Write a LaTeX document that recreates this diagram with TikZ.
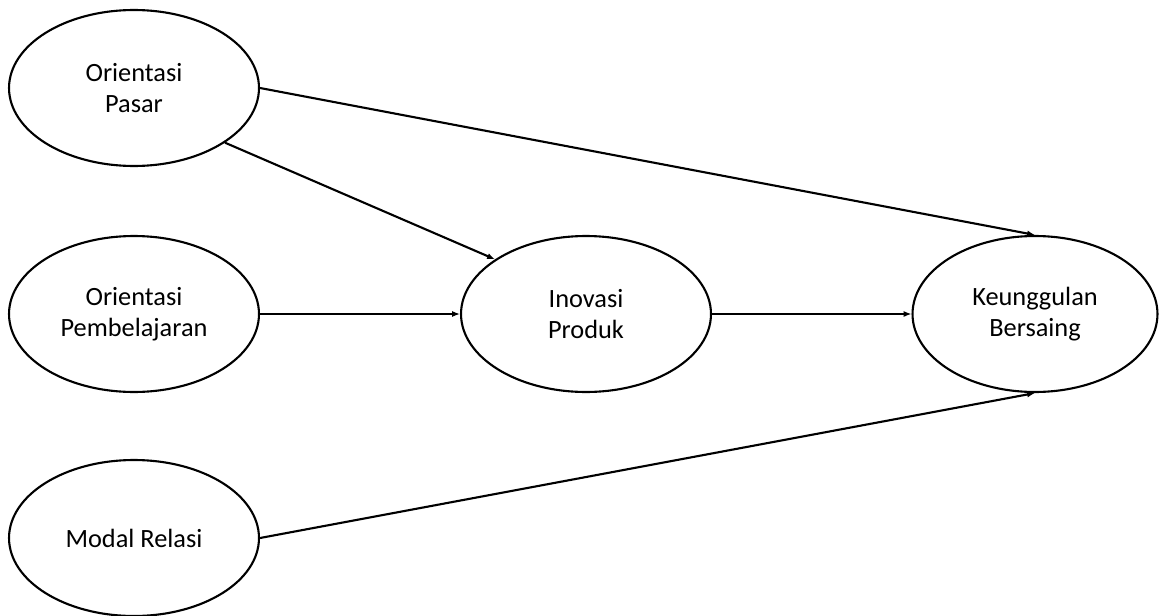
\documentclass[tikz,border=0pt]{standalone}
\usepackage{fontspec}
\setmainfont{Carlito}
\usetikzlibrary{arrows.meta,shapes.geometric}
\begin{document}
\begin{tikzpicture}[x=0.02cm,y=-0.02cm,>={Latex[length=4.5pt,width=3.5pt]},
  var/.style={ellipse,draw,line width=1.2pt,minimum width=5cm,minimum height=3.12cm,
    inner sep=0pt,align=center,font=\fontsize{15}{17.5}\selectfont},
  panah/.style={->,line width=1.2pt}]
\useasboundingbox (0,0) rectangle (1159,615);

% Variabel
\node[var] (OP) at (134,88) {Orientasi\\Pasar};
\node[var] (OB) at (134,314) {Orientasi\\Pembelajaran};
\node[var] (MR) at (134,538) {Modal Relasi};
\node[var] (IP) at (586,314) {Inovasi\\Produk};
\node[var,minimum width=4.9cm] (KB) at (1035,314) {Keunggulan\\Bersaing};

% Hubungan
\draw[panah] (OP.east) -- (KB.north);
\draw[panah] (OP.-31) -- (IP.149);
\draw[panah] (OB) -- (IP);
\draw[panah] (IP) -- (KB);
\draw[panah] (MR.east) -- (KB.south);

\end{tikzpicture}
\end{document}
